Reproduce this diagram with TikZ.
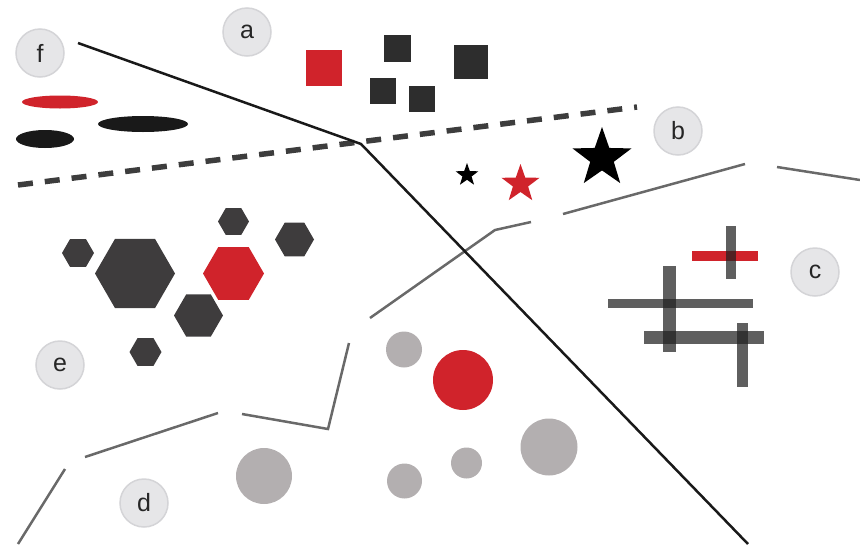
\documentclass[tikz,border=0pt]{standalone}
\usepackage{fontspec}
\setmainfont{Liberation Sans}
\usetikzlibrary{shapes.geometric}
\definecolor{markred}{HTML}{D0232B}
\definecolor{inkdark}{HTML}{2D2D2D}
\definecolor{hexgray}{HTML}{3E3C3D}
\definecolor{dotgray}{HTML}{B3AFB0}
\definecolor{linegray}{HTML}{696969}
\definecolor{tagfill}{HTML}{E6E6E8}
\definecolor{tagdraw}{HTML}{D4D4D7}
\tikzset{
  regiontag/.style={circle, draw=tagdraw, line width=1.5pt, fill=tagfill, minimum size=48pt, inner sep=0pt, font=\fontsize{25}{25}\selectfont, text=black!85},
  sqmark/.style={rectangle, fill=inkdark, inner sep=0pt, minimum size=#1},
  starmark/.style={star, star points=5, star point ratio=2.5, fill=black, inner sep=0pt, minimum size=#1},
  hexmark/.style={regular polygon, regular polygon sides=6, fill=hexgray, inner sep=0pt, minimum size=#1},
  dotmark/.style={circle, fill=dotgray, inner sep=0pt, minimum size=#1},
  ovalmark/.style={ellipse, fill=black!90, inner sep=0pt},
  barmark/.style={fill=black!87, fill opacity=0.72},
  mainline/.style={line width=2.5pt, black!90},
  cutline/.style={line width=5.5pt, black!76, dash pattern=on 15pt off 12pt},
  edgeline/.style={line width=2.5pt, linegray}
}

\begin{document}
\begin{tikzpicture}[x=1pt, y=-1pt]
  \useasboundingbox (0,0) rectangle (860,544);

  % region f: ovals
  \node[ovalmark, fill=markred, minimum width=76pt, minimum height=13pt] (ovR) at (60,102) {};
  \node[ovalmark, minimum width=90pt, minimum height=16pt] (ovB1) at (143,124) {};
  \node[ovalmark, minimum width=58pt, minimum height=18pt] (ovB2) at (45,139) {};

  % region a: squares
  \node[sqmark=36pt, fill=markred] (sqR) at (324,68) {};
  \node[sqmark=27pt] (sq1) at (397.5,48) {};
  \node[sqmark=26pt] (sq2) at (382.5,91) {};
  \node[sqmark=26pt] (sq3) at (421.5,99) {};
  \node[sqmark=34pt] (sq4) at (471,61.5) {};

  % region b: stars
  \node[starmark=24pt] (stS) at (467,175) {};
  \node[starmark=40pt, fill=markred] (stR) at (520.5,184) {};
  \node[starmark=62pt] (stB) at (602,158) {};

  % region c: bars
  \fill[markred] (692,251) rectangle (758,261);
  \fill[barmark] (726,226) rectangle (736,279);
  \fill[barmark] (608,299) rectangle (753,308);
  \fill[barmark] (663,266) rectangle (676,352);
  \fill[barmark] (644,331) rectangle (764,344);
  \fill[barmark] (737,323) rectangle (748,387);

  % region e: hexagons
  \node[hexmark=80pt] (hxL) at (135,273.5) {};
  \node[hexmark=32pt] (hx1) at (78,253) {};
  \node[hexmark=61pt, fill=markred] (hxR) at (233.5,273.5) {};
  \node[hexmark=49pt] (hx2) at (198.5,315.5) {};
  \node[hexmark=31pt] (hx3) at (233.5,221.5) {};
  \node[hexmark=39pt] (hx4) at (294.5,239.5) {};
  \node[hexmark=32pt] (hx5) at (145.5,352) {};

  % region d: dots
  \node[dotmark=36pt] (dt1) at (404,349.5) {};
  \node[dotmark=60pt, fill=markred] (dtR) at (463,380) {};
  \node[dotmark=57pt] (dt2) at (549,447) {};
  \node[dotmark=31pt] (dt3) at (466.5,463) {};
  \node[dotmark=35pt] (dt4) at (404.5,481) {};
  \node[dotmark=56pt] (dt5) at (264,476) {};

  % broken grey border
  \draw[edgeline] (18,544) -- (65,469);
  \draw[edgeline] (85,457) -- (218,413);
  \draw[edgeline] (242,414) -- (328,429) -- (349,343);
  \draw[edgeline] (370,318) -- (495,230) -- (531,222);
  \draw[edgeline] (563,214) -- (745,164);
  \draw[edgeline] (777,167) -- (860,180);

  % dashed and solid borders
  \draw[cutline] (18,185) -- (637,107);
  \draw[mainline] (78,43) -- (361,144) -- (748,544);

  % region tags
  \node[regiontag] (tagF) at (40,53) {f};
  \node[regiontag] (tagA) at (247,32) {a};
  \node[regiontag] (tagB) at (678,131) {b};
  \node[regiontag] (tagC) at (815,272) {c};
  \node[regiontag] (tagE) at (60,365) {e};
  \node[regiontag] (tagD) at (144,503) {d};
\end{tikzpicture}
\end{document}
